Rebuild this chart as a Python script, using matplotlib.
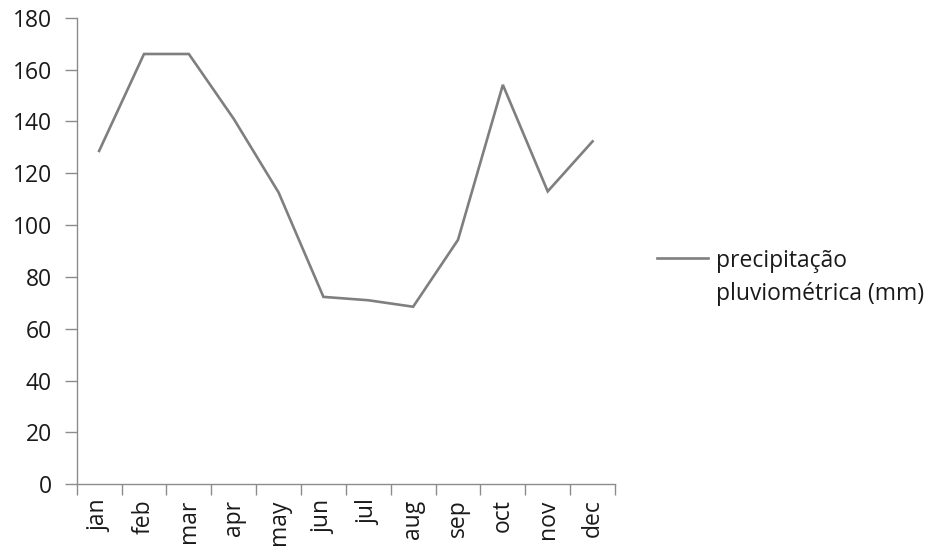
import matplotlib
matplotlib.use("Agg")
import matplotlib.pyplot as plt
from matplotlib.lines import Line2D
import numpy as np

months = ["jan", "feb", "mar", "apr", "may", "jun", "jul", "aug", "sep", "oct", "nov", "dec"]
precip = [128.6, 166.0, 166.0, 141.0, 112.6, 72.3, 71.0, 68.5, 94.3, 154.1, 113.0, 132.3]
y_ticks = [0, 20, 40, 60, 80, 100, 120, 140, 160, 180]
legend_lines = ["precipitação", "pluviométrica (mm)"]

plt.rcParams["font.family"] = ["Open Sans", "DejaVu Sans"]

W, H = 934, 548
fig = plt.figure(figsize=(W / 100, H / 100), dpi=100)
ax = fig.add_axes([76.7 / W, 1 - 484.3 / H, (615 - 76.7) / W, (484.3 - 17.7) / H])

axis_color = "#8c8c8c"
line_color = "#7f7f7f"
text_color = "#1a1a1a"
fs = 16.5

x = np.arange(len(months))
ax.plot(x, precip, color=line_color, lw=1.9, solid_joinstyle="miter")

ax.set_xlim(-0.5, len(months) - 0.5)
ax.set_ylim(0, 180)
ax.set_yticks(y_ticks)
ax.set_yticklabels([str(v) for v in y_ticks], fontsize=fs, color=text_color)

ax.set_xticks(x)
ax.set_xticklabels(months, rotation=90, fontsize=fs, color=text_color)
ax.set_xticks(np.arange(-0.5, len(months), 1.0), minor=True)
ax.tick_params(axis="x", which="major", length=0, pad=11)
ax.tick_params(axis="x", which="minor", length=8, width=1, color=axis_color, direction="out")
ax.tick_params(axis="y", length=9, width=1, color=axis_color, direction="out", pad=9)

for side in ("top", "right"):
    ax.spines[side].set_visible(False)
for side in ("left", "bottom"):
    ax.spines[side].set_color(axis_color)
    ax.spines[side].set_linewidth(1.0)

# legend drawn in figure pixels to the right of the plot
fig.add_artist(Line2D([656.7 / W, 708 / W], [1 - 258.3 / H, 1 - 258.3 / H],
                      transform=fig.transFigure, color=line_color, lw=1.9))
fig.text(716.5 / W, 1 - 261 / H, legend_lines[0], fontsize=fs, color=text_color,
         ha="left", va="center")
fig.text(716.5 / W, 1 - 294 / H, legend_lines[1], fontsize=fs, color=text_color,
         ha="left", va="center")

fig.savefig("out.png", dpi=100, facecolor="white")
